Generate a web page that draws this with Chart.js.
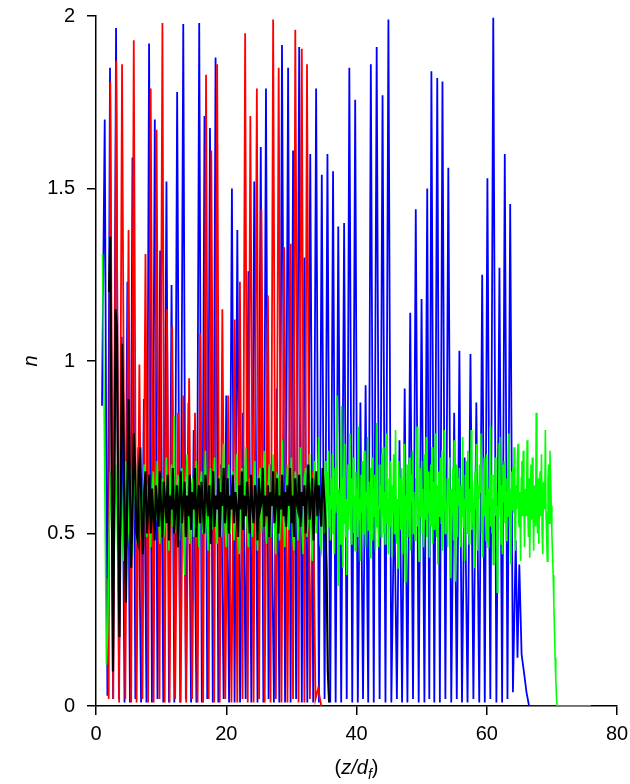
<!DOCTYPE html>
<html>
<head>
<meta charset="utf-8">
<script src="https://cdn.jsdelivr.net/npm/chart.js@4.4.0/dist/chart.umd.min.js"></script>
<style>
  html, body { margin: 0; padding: 0; background: #fff; }
  #wrap { width: 630px; height: 784px; }
</style>
</head>
<body>
<div id="wrap"><canvas id="chart" width="630" height="784"></canvas></div>
<script>
// Tick values
const xTicks = [0, 20, 40, 60, 80];
const yTicks = [0, 0.5, 1, 1.5, 2];

// Blue: peak / trough vertices
const blueZ = [0.92, 1.34, 1.75, 2.15, 2.62, 3.08, 3.52, 3.95, 4.38, 4.82, 5.21, 5.60, 6.05, 6.50, 6.92, 7.35, 7.75, 8.15, 8.59, 9.03,
  9.44, 9.85, 10.33, 10.82, 11.21, 11.60, 12.03, 12.46, 12.93, 13.40, 13.80, 14.20, 14.60, 15.00, 15.42, 15.85, 16.25, 16.66, 17.08, 17.50,
  17.93, 18.36, 18.78, 19.20, 19.60, 20.00, 20.43, 20.87, 21.28, 21.70, 22.12, 22.55, 22.98, 23.40, 23.85, 24.30, 24.80, 25.30, 25.70, 26.10,
  26.50, 26.90, 27.32, 27.75, 28.15, 28.56, 29.03, 29.50, 29.88, 30.26, 30.73, 31.20, 31.60, 32.00, 32.45, 32.90, 33.35, 33.80, 34.23, 34.67,
  35.10, 35.54, 35.97, 36.40, 36.80, 37.20, 37.65, 38.10, 38.50, 38.90, 39.35, 39.80, 40.20, 40.60, 41.00, 41.40, 41.80, 42.20, 42.65, 43.10,
  43.55, 44.00, 44.45, 44.90, 45.35, 45.80, 46.20, 46.60, 47.00, 47.40, 47.82, 48.25, 48.68, 49.10, 49.55, 49.99, 50.43, 50.86, 51.18, 51.50,
  51.95, 52.40, 52.80, 53.20, 53.65, 54.10, 54.55, 55.00, 55.40, 55.80, 56.20, 56.60, 57.05, 57.50, 57.95, 58.40, 58.85, 59.30, 59.70, 60.10,
  60.55, 61.00, 61.48, 61.95, 62.36, 62.77, 63.18, 63.60, 64.02, 64.45, 64.72, 65.00, 65.35, 65.70, 66.10, 66.50, 71.00];
const blueN = [0.87, 1.70, 0.03, 1.85, 0.02, 1.965, 0.02, 1.07, 0.01, 1.23, 0.01, 1.59, 0.02, 0.75, 0.01, 0.89, 0.01, 1.92, 0.01, 1.70,
  0.02, 1.32, 0.01, 1.52, 0.01, 1.22, 0.01, 1.78, 0.01, 1.977, 0.02, 0.88, 0.01, 0.80, 0.01, 1.98, 0.01, 1.71, 0.02, 1.675,
  0.01, 1.88, 0.01, 0.70, 0.02, 0.90, 0.01, 1.50, 0.01, 1.38, 0.01, 0.85, 0.02, 1.26, 0.01, 1.52, 0.01, 1.62, 0.01, 1.79,
  0.02, 0.70, 0.01, 0.92, 0.01, 1.916, 0.01, 1.85, 0.01, 1.61, 0.02, 1.91, 0.01, 1.30, 0.01, 1.60, 0.01, 1.79, 0.01, 1.54,
  0.02, 1.60, 0.01, 1.55, 0.01, 1.39, 0.01, 1.40, 0.02, 1.85, 0.01, 1.757, 0.01, 0.88, 0.02, 0.93, 0.01, 1.86, 0.01, 1.91,
  0.02, 1.77, 0.01, 1.99, 0.01, 0.62, 0.02, 0.77, 0.01, 0.92, 0.01, 1.14, 0.02, 1.44, 0.01, 1.18, 0.01, 1.50, 0.02, 1.84,
  0.01, 1.82, 0.01, 1.81, 0.02, 1.56, 0.01, 0.85, 0.02, 1.03, 0.01, 0.72, 0.01, 1.02, 0.02, 0.88, 0.01, 1.25, 0.01, 1.53,
  0.02, 1.995, 0.01, 1.27, 0.01, 1.60, 0.02, 1.455, 0.04, 0.48, 0.14, 0.41, 0.15, 0.10, 0.04, 0.00, 0.00];

// Red: peak / trough vertices
const redZ = [1.75, 1.95, 2.20, 2.65, 3.10, 3.55, 4.00, 4.50, 5.00, 5.40, 5.80, 6.23, 6.66, 7.13, 7.60, 8.00, 8.40, 8.85, 9.30, 9.75,
  10.20, 10.55, 10.90, 11.30, 11.70, 12.15, 12.60, 13.00, 13.40, 13.85, 14.30, 14.75, 15.20, 15.60, 16.00, 16.45, 16.90, 17.30, 17.70, 18.15,
  18.60, 19.00, 19.40, 19.85, 20.30, 20.80, 21.30, 21.70, 22.10, 22.50, 22.90, 23.30, 23.70, 24.20, 24.70, 25.05, 25.40, 25.90, 26.40, 26.80,
  27.20, 27.62, 28.05, 28.48, 28.90, 29.40, 29.90, 30.25, 30.60, 31.10, 31.60, 32.00, 32.40, 32.85, 33.30, 33.70, 34.10, 34.60];
const redN = [0.37, 0.02, 1.81, 0.02, 1.87, 0.01, 1.86, 0.02, 1.38, 0.01, 1.93, 0.01, 0.99, 0.02, 1.31, 0.01, 1.79, 0.01, 1.67, 0.02,
  1.98, 0.01, 1.15, 0.01, 1.10, 0.02, 0.85, 0.01, 0.90, 0.01, 0.95, 0.02, 0.85, 0.01, 1.08, 0.01, 1.83, 0.02, 1.61, 0.01,
  1.86, 0.01, 1.15, 0.02, 0.90, 0.01, 1.12, 0.01, 1.23, 0.02, 1.95, 0.01, 1.71, 0.01, 1.79, 0.02, 1.44, 0.01, 1.19, 0.01,
  1.99, 0.02, 1.85, 0.01, 1.33, 0.01, 1.34, 0.02, 1.96, 0.01, 1.905, 0.01, 1.86, 0.02, 0.68, 0.02, 0.05, 0.00];

// Green, part 1: sampled every 0.2 from z = 1.0 to 34.8
const greenEarlyStart = 1.0;
const greenEarlyStep = 0.2;
const greenEarlyN = [
  1.31, 0.95, 0.55, 0.12, 0.22,
  0.48, 0.68, 0.52, 0.30, 0.47,
  0.70, 0.58, 0.36, 0.52, 0.74,
  0.55, 0.42, 0.66, 0.71, 0.46,
  0.52, 0.69, 0.61, 0.44, 0.60,
  0.73, 0.50, 0.47, 0.66, 0.62,
  0.48, 0.58, 0.70, 0.53, 0.49,
  0.64, 0.59, 0.46, 0.62, 0.68,
  0.51, 0.55, 0.71, 0.57, 0.47,
  0.60, 0.66, 0.49, 0.54, 0.72,
  0.56, 0.45, 0.63, 0.70, 0.52,
  0.84, 0.50, 0.58, 0.67, 0.48,
  0.61, 0.69, 0.50, 0.38, 0.65,
  0.73, 0.55, 0.47, 0.62, 0.66,
  0.49, 0.57, 0.71, 0.53, 0.46,
  0.64, 0.68, 0.50, 0.56, 0.74,
  0.54, 0.45, 0.63, 0.69, 0.51,
  0.58, 0.72, 0.52, 0.47, 0.65,
  0.67, 0.49, 0.60, 0.76, 0.53,
  0.46, 0.62, 0.70, 0.50, 0.57,
  0.68, 0.48, 0.55, 0.73, 0.56,
  0.44, 0.64, 0.69, 0.51, 0.59,
  0.75, 0.52, 0.46, 0.66, 0.63,
  0.49, 0.58, 0.71, 0.54, 0.45,
  0.65, 0.69, 0.50, 0.56, 0.74,
  0.53, 0.47, 0.62, 0.70, 0.49,
  0.60, 0.73, 0.52, 0.44, 0.67,
  0.66, 0.48, 0.59, 0.77, 0.54,
  0.46, 0.63, 0.70, 0.51, 0.57,
  0.72, 0.50, 0.45, 0.68, 0.62,
  0.48, 0.58, 0.75, 0.53, 0.44,
  0.66, 0.69, 0.49, 0.55, 0.73,
  0.52, 0.42, 0.64, 0.71, 0.50,
  0.60, 0.78, 0.47, 0.45, 0.68
];

// Green, part 2: sampled every 0.1 from z = 35.0 to 70.9
const greenLateStart = 35.0;
const greenLateStep = 0.1;
const greenLateN = [
  0.62, 0.50, 0.71, 0.55, 0.46, 0.68, 0.59, 0.74, 0.52, 0.61,
  0.48, 0.66, 0.57, 0.73, 0.50, 0.62, 0.44, 0.69, 0.56, 0.64,
  0.90, 0.52, 0.35, 0.63, 0.58, 0.47, 0.71, 0.87, 0.55, 0.40,
  0.66, 0.53, 0.76, 0.49, 0.60, 0.38, 0.57, 0.70, 0.51, 0.64,
  0.79, 0.55, 0.47, 0.66, 0.58, 0.72, 0.50, 0.61, 0.45, 0.68,
  0.57, 0.63, 0.49, 0.81, 0.54, 0.60, 0.42, 0.67, 0.56, 0.71,
  0.50, 0.64, 0.74, 0.53, 0.46, 0.62, 0.58, 0.78, 0.51, 0.65,
  0.56, 0.43, 0.69, 0.60, 0.72, 0.48, 0.63, 0.55, 0.67, 0.45,
  0.61, 0.82, 0.52, 0.58, 0.46, 0.70, 0.57, 0.64, 0.49, 0.73,
  0.55, 0.75, 0.50, 0.62, 0.47, 0.68, 0.79, 0.53, 0.60, 0.44,
  0.66, 0.52, 0.71, 0.58, 0.43, 0.64, 0.56, 0.73, 0.50, 0.62,
  0.80, 0.54, 0.47, 0.60, 0.40, 0.71, 0.58, 0.66, 0.51, 0.69,
  0.57, 0.44, 0.65, 0.76, 0.52, 0.36, 0.61, 0.54, 0.70, 0.49,
  0.63, 0.72, 0.53, 0.45, 0.67, 0.59, 0.74, 0.50, 0.62, 0.56,
  0.48, 0.66, 0.58, 0.81, 0.52, 0.60, 0.42, 0.69, 0.55, 0.64,
  0.71, 0.50, 0.63, 0.46, 0.58, 0.73, 0.54, 0.78, 0.49, 0.61,
  0.56, 0.68, 0.43, 0.62, 0.70, 0.52, 0.75, 0.47, 0.60, 0.65,
  0.51, 0.79, 0.58, 0.49, 0.64, 0.41, 0.68, 0.55, 0.62, 0.72,
  0.53, 0.74, 0.45, 0.61, 0.57, 0.80, 0.50, 0.66, 0.53, 0.59,
  0.46, 0.66, 0.58, 0.72, 0.51, 0.37, 0.63, 0.56, 0.69, 0.48,
  0.77, 0.54, 0.36, 0.62, 0.70, 0.49, 0.66, 0.58, 0.69, 0.52,
  0.46, 0.64, 0.55, 0.78, 0.52, 0.60, 0.42, 0.67, 0.57, 0.71,
  0.50, 0.74, 0.58, 0.47, 0.63, 0.56, 0.80, 0.51, 0.65, 0.59,
  0.51, 0.40, 0.68, 0.57, 0.76, 0.53, 0.45, 0.64, 0.60, 0.70,
  0.62, 0.79, 0.50, 0.58, 0.43, 0.66, 0.72, 0.55, 0.61, 0.48,
  0.73, 0.54, 0.46, 0.63, 0.58, 0.81, 0.52, 0.67, 0.50, 0.60,
  0.41, 0.67, 0.57, 0.72, 0.55, 0.62, 0.33, 0.58, 0.55, 0.76,
  0.78, 0.52, 0.47, 0.64, 0.44, 0.70, 0.59, 0.71, 0.53, 0.62,
  0.48, 0.66, 0.60, 0.55, 0.79, 0.52, 0.63, 0.41, 0.68, 0.57,
  0.69, 0.56, 0.75, 0.50, 0.45, 0.64, 0.57, 0.70, 0.76, 0.53,
  0.52, 0.62, 0.42, 0.66, 0.71, 0.55, 0.74, 0.60, 0.46, 0.63,
  0.63, 0.55, 0.77, 0.58, 0.49, 0.66, 0.43, 0.61, 0.70, 0.54,
  0.72, 0.57, 0.45, 0.64, 0.60, 0.52, 0.85, 0.58, 0.50, 0.66,
  0.47, 0.62, 0.68, 0.55, 0.73, 0.50, 0.44, 0.65, 0.62, 0.57,
  0.80, 0.56, 0.49, 0.42, 0.66, 0.70, 0.53, 0.74, 0.66, 0.58,
  0.50, 0.44, 0.38, 0.30, 0.22, 0.14, 0.08, 0.03, 0.00, 0.00
];

// Green, flat tail
const greenTailZ = [71.0, 76.0];
const greenTailN = [0.00, 0.00];

// Black: sampled every 0.2 from z = 2.0 to 35.8
const blackStart = 2.0;
const blackStep = 0.2;
const blackN = [
  1.20, 1.36, 0.70, 0.10, 0.55,
  1.15, 1.10, 0.55, 0.20, 0.60,
  1.05, 0.85, 0.50, 0.30, 0.62,
  0.89, 0.65, 0.40, 0.56, 0.79,
  0.70, 0.50, 0.48, 0.68, 0.75,
  0.54, 0.44, 0.62, 0.68, 0.50,
  0.56, 0.67, 0.50, 0.63, 0.55,
  0.48, 0.64, 0.58, 0.52, 0.68,
  0.57, 0.49, 0.65, 0.60, 0.53,
  0.67, 0.48, 0.61, 0.57, 0.69,
  0.50, 0.58, 0.64, 0.46, 0.61,
  0.68, 0.53, 0.59, 0.65, 0.49,
  0.61, 0.55, 0.67, 0.51, 0.62,
  0.57, 0.69, 0.49, 0.59, 0.64,
  0.53, 0.65, 0.58, 0.50, 0.67,
  0.61, 0.55, 0.64, 0.47, 0.59,
  0.68, 0.52, 0.61, 0.57, 0.66,
  0.49, 0.62, 0.58, 0.69, 0.53,
  0.59, 0.66, 0.50, 0.61, 0.57,
  0.67, 0.53, 0.62, 0.58, 0.49,
  0.64, 0.57, 0.68, 0.51, 0.61,
  0.55, 0.65, 0.59, 0.50, 0.67,
  0.58, 0.53, 0.64, 0.61, 0.48,
  0.66, 0.57, 0.59, 0.69, 0.52,
  0.61, 0.55, 0.64, 0.49, 0.62,
  0.58, 0.68, 0.53, 0.59, 0.66,
  0.50, 0.61, 0.57, 0.67, 0.55,
  0.62, 0.52, 0.64, 0.58, 0.69,
  0.53, 0.61, 0.49, 0.66, 0.59,
  0.57, 0.67, 0.52, 0.62, 0.58,
  0.64, 0.50, 0.61, 0.70, 0.54,
  0.59, 0.66, 0.48, 0.61, 0.68,
  0.55, 0.64, 0.58, 0.52, 0.69,
  0.62, 0.55, 0.40, 0.10, 0.01
];

const FONT = "'Liberation Sans', Arial, sans-serif";
const FONT_SIZE = 20;

const toPoints = (zs, ns) => zs.map((z, i) => ({ x: z, y: ns[i] }));
const gridPoints = (z0, dz, ns) => ns.map((n, i) => ({ x: +(z0 + i * dz).toFixed(2), y: n }));

const greenPoints = [
  ...gridPoints(greenEarlyStart, greenEarlyStep, greenEarlyN),
  ...gridPoints(greenLateStart, greenLateStep, greenLateN),
  ...toPoints(greenTailZ, greenTailN)
];

// x-axis title with italic z/d and subscript f
const xTitlePlugin = {
  id: 'xTitle',
  afterDraw(chart) {
    const ctx = chart.ctx;
    const a = chart.chartArea;
    const parts = [
      { t: '(', style: 'normal', size: FONT_SIZE, dy: 0 },
      { t: 'z/d', style: 'italic', size: FONT_SIZE, dy: 0 },
      { t: 'f', style: 'italic', size: 14, dy: 5 },
      { t: ')', style: 'normal', size: FONT_SIZE, dy: 0 }
    ];
    ctx.save();
    let total = 0;
    parts.forEach(p => {
      ctx.font = p.style + ' ' + p.size + 'px ' + FONT;
      p.w = ctx.measureText(p.t).width;
      total += p.w;
    });
    let x = (a.left + a.right) / 2 - total / 2;
    const base = a.bottom + 68;
    ctx.fillStyle = '#000';
    ctx.textBaseline = 'alphabetic';
    ctx.textAlign = 'left';
    parts.forEach(p => {
      ctx.font = p.style + ' ' + p.size + 'px ' + FONT;
      ctx.fillText(p.t, x, base + p.dy);
      x += p.w;
    });
    ctx.restore();
  }
};

const axisGrid = { display: true, drawOnChartArea: false, drawTicks: true, tickLength: 9, color: '#000', lineWidth: 1.5 };
const axisBorder = { display: true, color: '#000', width: 1.5 };
const tickFont = { family: FONT, size: FONT_SIZE };

new Chart(document.getElementById('chart'), {
  type: 'line',
  data: {
    datasets: [
      { label: 'black', data: gridPoints(blackStart, blackStep, blackN), borderColor: '#000000', borderWidth: 2.2 },
      { label: 'green', data: greenPoints, borderColor: '#00ff00', borderWidth: 1.6 },
      { label: 'red', data: toPoints(redZ, redN), borderColor: '#ff0000', borderWidth: 1.8 },
      { label: 'blue', data: toPoints(blueZ, blueN), borderColor: '#0000ff', borderWidth: 1.8 }
    ]
  },
  options: {
    responsive: false,
    animation: false,
    devicePixelRatio: 1,
    layout: { padding: { left: 0, right: 13, top: 16, bottom: 0 } },
    plugins: { legend: { display: false }, tooltip: { enabled: false } },
    elements: { point: { radius: 0 }, line: { tension: 0, fill: false } },
    scales: {
      x: {
        type: 'linear', min: 0, max: 80,
        afterBuildTicks: s => { s.ticks = xTicks.map(v => ({ value: v })); },
        afterFit: s => { s.height = 78; s.paddingLeft = 0; s.paddingRight = 0; },
        grid: axisGrid, border: axisBorder,
        ticks: { color: '#000', font: tickFont, padding: 7, maxRotation: 0 }
      },
      y: {
        type: 'linear', min: 0, max: 2,
        afterBuildTicks: s => { s.ticks = yTicks.map(v => ({ value: v })); },
        afterFit: s => { s.width = 96; s.paddingTop = 0; s.paddingBottom = 0; },
        grid: axisGrid, border: axisBorder,
        ticks: { color: '#000', font: tickFont, padding: 12, callback: v => String(v) },
        title: { display: true, text: 'n', color: '#000', font: { family: FONT, size: FONT_SIZE, style: 'italic' }, padding: { top: 19, bottom: 0 } }
      }
    }
  },
  plugins: [xTitlePlugin]
});
</script>
</body>
</html>
